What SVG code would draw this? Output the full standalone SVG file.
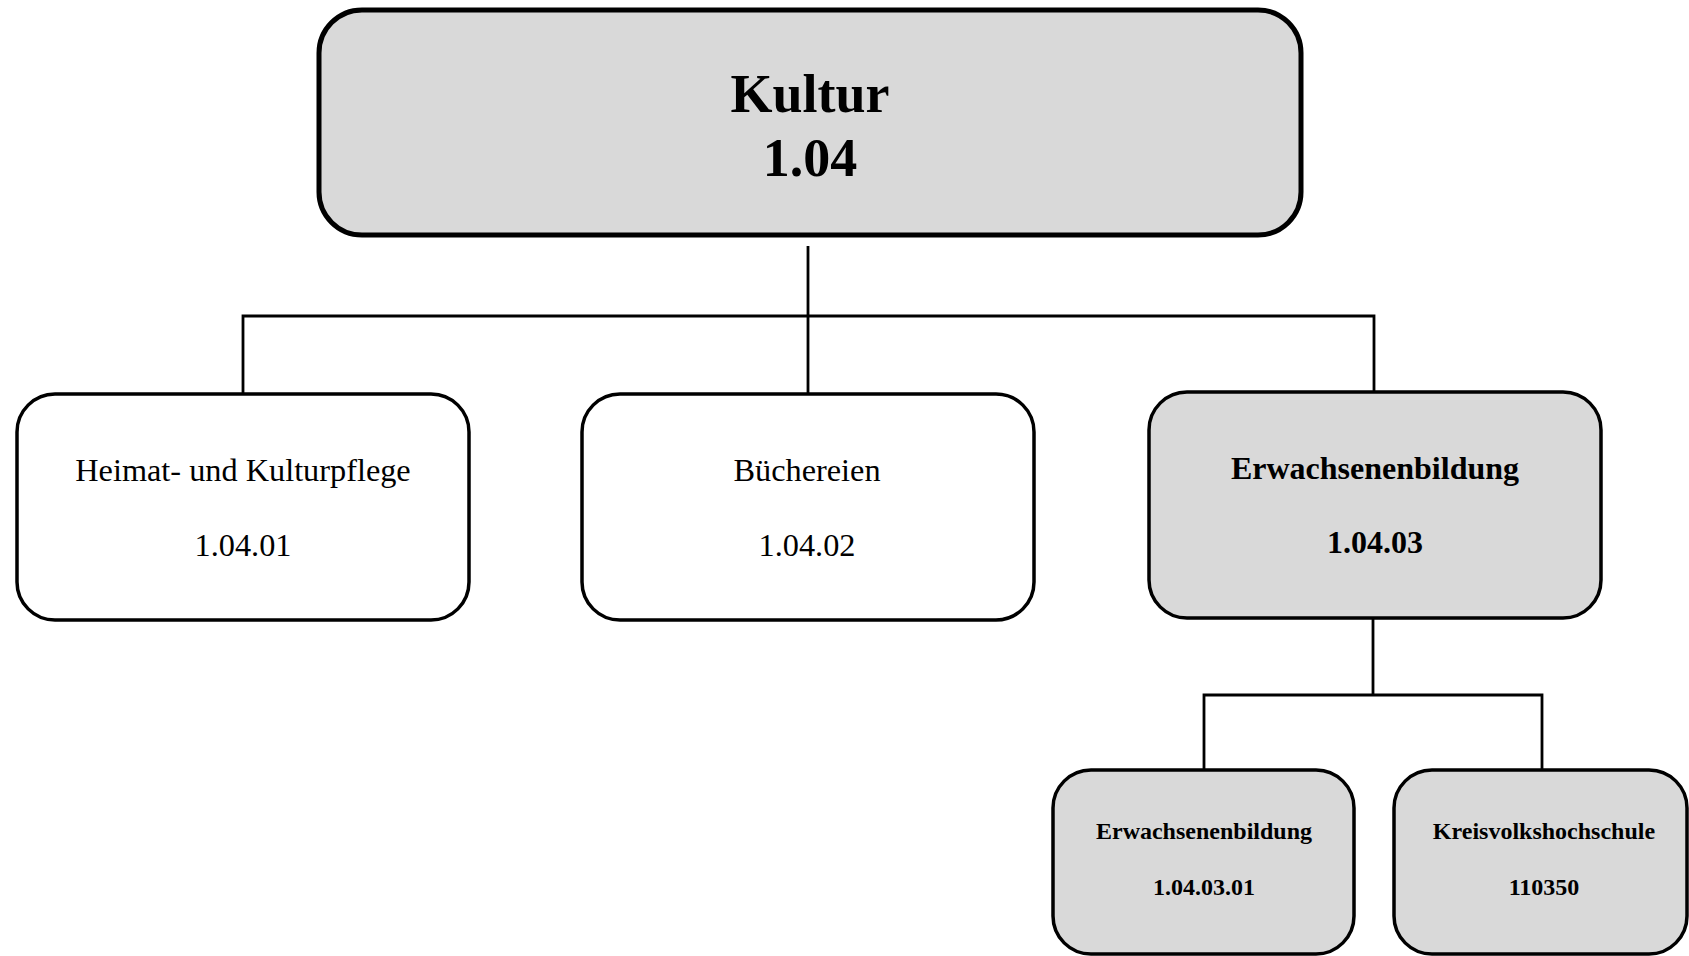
<svg xmlns="http://www.w3.org/2000/svg" width="1689" height="956" viewBox="0 0 1689 956">
<style>
.box{stroke:#000;stroke-width:3.5}
.white{fill:#fff}
.gray{fill:#d9d9d9}
.con{stroke:#000;stroke-width:2.8;fill:none}
text{font-family:"Liberation Serif","Times New Roman",serif;fill:#000;text-anchor:middle}
.b{font-weight:bold}
.r{font-size:32.3px}
</style>
<rect width="1689" height="956" fill="#fff"/>
<g id="connectors">
<line class="con" x1="808" y1="246" x2="808" y2="393"/>
<polyline class="con" points="243,393 243,316 1374,316 1374,391"/>
<line class="con" x1="1373" y1="618" x2="1373" y2="695"/>
<polyline class="con" points="1204,770 1204,695 1542,695 1542,770"/>
</g>
<g id="kultur">
<rect class="box gray" x="319" y="10" width="982" height="225" rx="43" style="stroke-width:5"/>
<text class="b" x="810" y="112" font-size="54">Kultur</text>
<text class="b" x="810" y="176" font-size="54">1.04</text>
</g>
<g id="heimat">
<rect class="box white" x="17" y="394" width="452" height="226" rx="38"/>
<text class="r" x="243" y="481">Heimat- und Kulturpflege</text>
<text class="r" x="243" y="556">1.04.01</text>
</g>
<g id="buechereien">
<rect class="box white" x="582" y="394" width="452" height="226" rx="38"/>
<text class="r" x="807" y="481">Büchereien</text>
<text class="r" x="807" y="556">1.04.02</text>
</g>
<g id="erwachsenenbildung">
<rect class="box gray" x="1149" y="392" width="452" height="226" rx="38"/>
<text class="b" x="1375" y="479" font-size="32">Erwachsenenbildung</text>
<text class="b" x="1375" y="553" font-size="32">1.04.03</text>
</g>
<g id="erwachsenenbildung2">
<rect class="box gray" x="1053" y="770" width="301" height="184" rx="38"/>
<text class="b" x="1204" y="839" font-size="24">Erwachsenenbildung</text>
<text class="b" x="1204" y="895" font-size="24">1.04.03.01</text>
</g>
<g id="kvhs">
<rect class="box gray" x="1394" y="770" width="293" height="184" rx="38"/>
<text class="b" x="1544" y="839" font-size="24">Kreisvolkshochschule</text>
<text class="b" x="1544" y="895" font-size="24">110350</text>
</g>
</svg>
